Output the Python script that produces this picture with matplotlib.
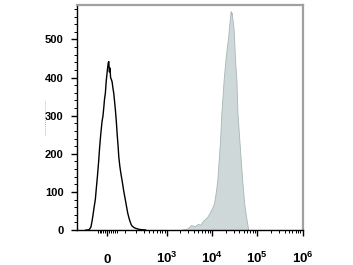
import matplotlib
matplotlib.use("Agg")
import matplotlib.pyplot as plt
from matplotlib.ticker import FixedLocator, NullFormatter

plt.rcParams["font.family"] = ["Liberation Sans", "DejaVu Sans"]
plt.rcParams["mathtext.fontset"] = "custom"
plt.rcParams["mathtext.rm"] = "Liberation Sans"
plt.rcParams["mathtext.bf"] = "Liberation Sans:bold"
plt.rcParams["mathtext.default"] = "bf"

# unstained control (black outline)
ctrl_x = [-130, -110, -100, -92, -85, -78, -72, -64, -58, -52, -45, -40, -34,
          -27, -22, -18, -14, -10, -6, -3, 0, 4, 7, 10, 13, 16, 20, 24, 28,
          32, 36, 41, 46, 51, 56, 60, 66, 72, 81, 90, 98, 104, 112, 120, 130,
          140, 150, 160, 180, 200, 233, 260, 337]
ctrl_y = [0, 0, 3, 8, 22, 40, 58, 80, 110, 140, 180, 215, 250,
          285, 300, 322, 345, 360, 390, 405, 420, 438, 442, 415, 425, 400, 395, 388, 372,
          360, 340, 315, 285, 250, 220, 192, 168, 150, 128, 105, 88, 76, 60, 45, 32,
          22, 14, 10, 6, 4, 2, 1, 0]

# stained sample (grey filled)
stain_x = [-130, 2000, 2900, 3450, 4200, 4900, 5600, 6300, 7200, 8000, 8800,
           9900, 11100, 12100, 13100, 13900, 14800, 15500, 16100, 17100, 18100,
           19100, 20200, 21300, 22700, 23700, 24500, 25200, 25900, 26500, 27200,
           27900, 28900, 29900, 30900, 31900, 33200, 34700, 35600, 36600, 38800,
           41200, 43700, 46500, 49000, 51500, 55100, 58500, 61000, 63300]
stain_y = [0, 0, 4, 13, 10, 16, 14, 24, 30, 36, 44,
           56, 70, 98, 131, 175, 220, 265, 306, 350, 394,
           425, 455, 480, 505, 530, 548, 562, 574, 566, 570,
           558, 545, 530, 500, 460, 425, 394, 350, 306, 262,
           219, 175, 131, 100, 70, 44, 25, 12, 0]

x_major = [0, 1e3, 1e4, 1e5, 1e6]
x_labels = ["$0$", "$10^3$", "$10^4$", "$10^5$", "$10^6$"]
y_major = [0, 100, 200, 300, 400, 500]

fig = plt.figure(figsize=(3.53, 2.65), dpi=100)
ax = fig.add_axes([0.218, 0.132, 0.639, 0.850])

ax.set_xscale("asinh", linear_width=98)
ax.fill_between(stain_x, stain_y, color="#cfd8d8", edgecolor="#a7b6b6",
                lw=0.6, zorder=2)
ax.plot(ctrl_x, ctrl_y, color="black", lw=1.0, zorder=3)

ax.set_xlim(-220, 1e6)
ax.set_ylim(0, 591)

minor_x = ([v for v in range(-50, 51, 10)] + list(range(100, 1000, 100))
           + list(range(2000, 10000, 1000)) + list(range(20000, 100000, 10000))
           + list(range(200000, 1000000, 100000)))
ax.xaxis.set_major_locator(FixedLocator(x_major))
ax.set_xticklabels(x_labels)
ax.xaxis.set_minor_locator(FixedLocator(minor_x))
ax.xaxis.set_minor_formatter(NullFormatter())

ax.yaxis.set_major_locator(FixedLocator(y_major))
ax.yaxis.set_minor_locator(FixedLocator(list(range(20, 591, 20))))
ax.yaxis.set_minor_formatter(NullFormatter())

ax.tick_params(axis="both", which="major", direction="out", length=4.5,
               width=1.0, labelsize=8, color="black")
ax.tick_params(axis="both", which="minor", direction="out", length=2.2,
               width=0.7, color="black")
ax.tick_params(axis="x", which="major", pad=19, labelsize=9.5)
ax.tick_params(axis="y", which="major", pad=5)
for lab in ax.get_xticklabels():
    lab.set_va("baseline")
for lab in ax.get_yticklabels():
    lab.set_fontweight("bold")

ax.spines["top"].set_color("#a0a0a0")
ax.spines["right"].set_color("#a0a0a0")
ax.spines["top"].set_linewidth(1.6)
ax.spines["right"].set_linewidth(1.6)
ax.spines["left"].set_linewidth(1.0)
ax.spines["bottom"].set_linewidth(1.0)

# faint dotted mark left of the axis
fig.lines.append(plt.Line2D([0.127, 0.127], [0.49, 0.62], transform=fig.transFigure,
                            color="#9a9a9a", lw=0.6, ls=(0, (1, 1.5))))

fig.savefig("out.png", dpi=100)
